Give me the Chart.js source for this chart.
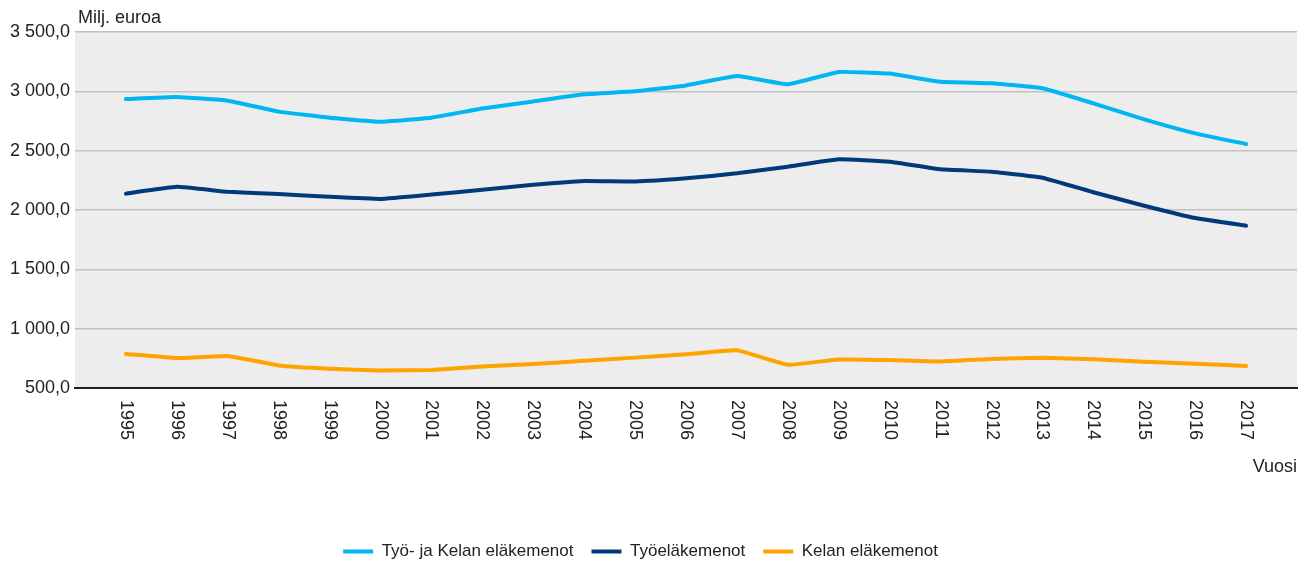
<!DOCTYPE html>
<html>
<head>
<meta charset="utf-8">
<script src="https://cdn.jsdelivr.net/npm/chart.js@4/dist/chart.umd.min.js"></script>
<style>
  html, body { margin: 0; padding: 0; background: #ffffff; }
  #wrap { width: 1310px; height: 561px; }
</style>
</head>
<body>
<div id="wrap"><canvas id="myChart" width="1310" height="561"></canvas></div>
<script>
// vuodet ja sarjat (milj. euroa)
var vuodet = [1995, 1996, 1997, 1998, 1999, 2000, 2001, 2002, 2003, 2004, 2005, 2006,
    2007, 2008, 2009, 2010, 2011, 2012, 2013, 2014, 2015, 2016, 2017]
var tyoJaKela = [2935, 2953, 2921, 2829, 2778, 2744, 2778, 2855, 2915, 2975, 3000, 3050,
    3130, 3060, 3163, 3150, 3080, 3068, 3026, 2899, 2764, 2646, 2556]
var tyo = [2138, 2195, 2153, 2135, 2111, 2093, 2130, 2170, 2212, 2244, 2240, 2267,
    2309, 2365, 2427, 2407, 2343, 2323, 2272, 2150, 2036, 1932, 1868]
var kela = [787, 752, 770, 690, 662, 647, 652, 682, 702, 729, 756, 784,
    818, 696, 740, 736, 724, 744, 755, 742, 722, 705, 685]
var sarjaNimet = ["Työ- ja Kelan eläkemenot", "Työeläkemenot", "Kelan eläkemenot"]
var yTicks = [500, 1000, 1500, 2000, 2500, 3000, 3500]

var fontti = "'Liberation Sans', Arial, sans-serif"
var tekstiVari = "#222222"

function pisteet(arvot) {
    return vuodet.map(function (v, i) { return { x: v, y: arvot[i] } })
}

function muotoile(arvo) {
    var s = ""
    if (arvo >= 1000) {
        var loput = String(arvo % 1000)
        while (loput.length < 3) loput = "0" + loput
        s = Math.floor(arvo / 1000) + " " + loput
    } else {
        s = String(arvo)
    }
    return s + ",0"
}

// harmaa tausta piirtoalueelle + akselin tekstit
var taustaPlugin = {
    id: "tausta",
    beforeDraw: function (chart) {
        var ctx = chart.ctx
        var a = chart.chartArea
        ctx.save()
        ctx.fillStyle = "#ededed"
        ctx.fillRect(a.left, a.top, a.right - a.left, a.bottom - a.top)
        ctx.restore()
    },
    afterDraw: function (chart) {
        var ctx = chart.ctx
        var a = chart.chartArea
        var x = chart.scales.x
        ctx.save()
        ctx.fillStyle = tekstiVari
        ctx.font = "18px " + fontti
        ctx.textAlign = "left"
        ctx.textBaseline = "middle"
        ctx.fillText("Milj. euroa", a.left + 3, 18)
        for (var i = 0; i < vuodet.length; i++) {
            ctx.save()
            ctx.translate(x.getPixelForValue(vuodet[i]), a.bottom + 12)
            ctx.rotate(Math.PI / 2)
            ctx.fillText(String(vuodet[i]), 0, 0)
            ctx.restore()
        }
        ctx.restore()
    }
}

var ctx = document.getElementById("myChart").getContext("2d")
var myChart = new Chart(ctx, {
    type: "line",
    data: {
        datasets: [{
            label: sarjaNimet[0],
            data: pisteet(tyoJaKela),
            borderColor: "#00b7f1",
            backgroundColor: "#00b7f1",
            borderWidth: 4,
            pointRadius: 0,
            tension: 0.1
        }, {
            label: sarjaNimet[1],
            data: pisteet(tyo),
            borderColor: "#003a7a",
            backgroundColor: "#003a7a",
            borderWidth: 4,
            pointRadius: 0,
            tension: 0.1
        }, {
            label: sarjaNimet[2],
            data: pisteet(kela),
            borderColor: "#ffa300",
            backgroundColor: "#ffa300",
            borderWidth: 4,
            pointRadius: 0,
            tension: 0.1
        }]
    },
    options: {
        responsive: false,
        animation: false,
        // vasen -16 siirtää selitettä vasemmalle, y-akseli levennetty vastaavasti
        layout: { padding: { left: -16, right: 13, top: 32, bottom: -9 } },
        elements: { line: { borderJoinStyle: "round", borderCapStyle: "round" } },
        scales: {
            x: {
                type: "linear",
                min: 1994,
                max: 2018,
                grid: { display: false },
                border: { display: true, color: "#222222", width: 2 },
                ticks: { display: false, stepSize: 1 },
                title: {
                    display: true,
                    text: "Vuosi",
                    align: "end",
                    color: tekstiVari,
                    font: { size: 18, family: fontti },
                    padding: { top: 0, bottom: 47 }
                },
                afterFit: function (scale) { scale.height = 137 }
            },
            y: {
                min: 500,
                max: 3500,
                afterBuildTicks: function (scale) {
                    scale.ticks = yTicks.map(function (v) { return { value: v } })
                },
                grid: { color: "#c2c2c2", lineWidth: 1.5, drawTicks: false },
                border: { display: false },
                ticks: {
                    padding: 5,
                    color: tekstiVari,
                    font: { size: 18, family: fontti },
                    callback: function (v) { return muotoile(v) }
                },
                afterFit: function (scale) { scale.width = 91 }
            }
        },
        plugins: {
            tooltip: { enabled: false },
            legend: {
                position: "bottom",
                labels: {
                    boxWidth: 30,
                    boxHeight: 4,
                    padding: 18,
                    color: tekstiVari,
                    font: { size: 17, family: fontti },
                    generateLabels: function (chart) {
                        var items = Chart.defaults.plugins.legend.labels.generateLabels(chart)
                        items.forEach(function (it) { it.lineWidth = 0 })
                        return items
                    }
                }
            }
        }
    },
    plugins: [taustaPlugin]
})
</script>
</body>
</html>
